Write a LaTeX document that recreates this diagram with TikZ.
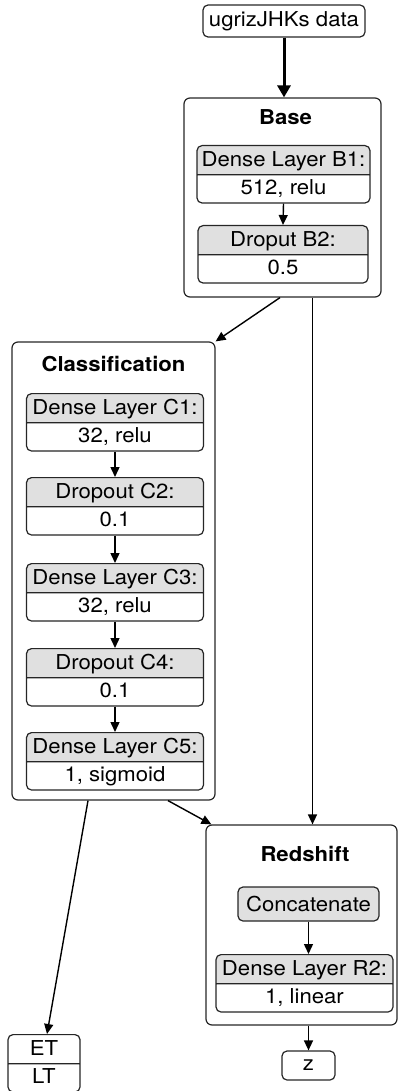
\documentclass[tikz,border=0pt]{standalone}
\usepackage{fontspec}
\setmainfont[FakeStretch=1.08]{TeX Gyre Heros}
\usetikzlibrary{shapes.multipart,arrows.meta}
\definecolor{hdr}{RGB}{224,224,224}
\newcommand\tpart[1]{\rule[-8pt]{0pt}{28pt}#1}
\newcommand\bpart[1]{\rule[-8pt]{0pt}{27pt}#1}
\begin{document}
\begin{tikzpicture}[x=1pt,y=-1pt,
  every node/.style={font=\fontsize{20.5}{24}\selectfont, text=black},
  layer/.style={rectangle split, rectangle split parts=2, draw=black!85, line width=1.2pt,
    rounded corners=5pt, rectangle split part fill={hdr,white}, inner xsep=0pt, inner ysep=0pt,
    minimum width=#1, anchor=north},
  layer/.default=177pt,
  plainbox/.style={draw=black!85, line width=1.2pt, rounded corners=5pt, inner sep=0pt},
  group/.style={draw=black!85, line width=1.2pt, rounded corners=6pt, inner sep=0pt},
  gtitle/.style={font=\fontsize{20.5}{24}\selectfont\bfseries},
  arr/.style={-{Triangle[length=10pt,width=9pt]}, line width=1.4pt, draw=black},
  thickarr/.style={-{Triangle[length=12pt,width=13pt]}, line width=3pt, draw=black}
]
\useasboundingbox (0,0) rectangle (398,1091);

% input
\node[plainbox, minimum width=162pt, minimum height=32pt] (in) at (284,21) {ugrizJHKs data};

% Base group
\node[group, minimum width=197pt, minimum height=199pt] (base) at (282.5,197.5) {};
\node[gtitle] (tbase) at (285.5,117) {Base};
\node[layer=173pt] (b1) at (283.5,145) {\tpart{Dense Layer B1:}\nodepart{two}\bpart{512, relu}};
\node[layer=170pt] (b2) at (283,225) {\tpart{Droput B2:}\nodepart{two}\bpart{0.5}};

% Classification group
\node[group, minimum width=203pt, minimum height=458pt] (cls) at (113.5,571) {};
\node[gtitle] (tcls) at (113.5,364) {Classification};
\node[layer] (c1) at (115,393) {\tpart{Dense Layer C1:}\nodepart{two}\bpart{32, relu}};
\node[layer] (c2) at (115,477) {\tpart{Dropout C2:}\nodepart{two}\bpart{0.1}};
\node[layer] (c3) at (115,563) {\tpart{Dense Layer C3:}\nodepart{two}\bpart{32, relu}};
\node[layer] (c4) at (115,648) {\tpart{Dropout C4:}\nodepart{two}\bpart{0.1}};
\node[layer] (c5) at (115,732) {\tpart{Dense Layer C5:}\nodepart{two}\bpart{1, sigmoid}};

% Redshift group
\node[group, minimum width=191pt, minimum height=200pt] (red) at (301.5,925) {};
\node[gtitle] (tred) at (305,854) {Redshift};
\node[plainbox, fill=hdr, minimum width=141pt, minimum height=34pt] (cat) at (308.5,904) {Concatenate};
\node[layer] (r2) at (304.5,954) {\tpart{Dense Layer R2:}\nodepart{two}\bpart{1, linear}};

% outputs
\node[plainbox, minimum width=53pt, minimum height=29pt] (z) at (308.5,1065.5) {z};
\node[layer=72pt, rectangle split part fill={white,white}] (etlt) at (44,1034) {\tpart{ET}\nodepart{two}\bpart{LT}};

% connectors
\draw[thickarr] (in.south) -- (base.north -| in.south);
\draw[arr] (b1.south) -- (b2.north);
\draw[arr] (c1.south) -- (c2.north);
\draw[arr] (c2.south) -- (c3.north);
\draw[arr] (c3.south) -- (c4.north);
\draw[arr] (c4.south) -- (c5.north);
\draw[arr] ([xshift=-2.5pt]base.south) -- (cls.north east);
\draw[arr] ([xshift=30pt]base.south) -- ([xshift=30pt]base.south |- red.north);
\draw[arr] ([xshift=54.5pt]cls.south) -- ([xshift=6pt]red.north west);
\draw[arr] ([xshift=-25.5pt]cls.south) -- ([xshift=3pt]etlt.north);
\draw[arr] (cat.south) -- (cat.south |- r2.north);
\draw[arr] (z.north |- red.south) -- (z.north);
\end{tikzpicture}
\end{document}
